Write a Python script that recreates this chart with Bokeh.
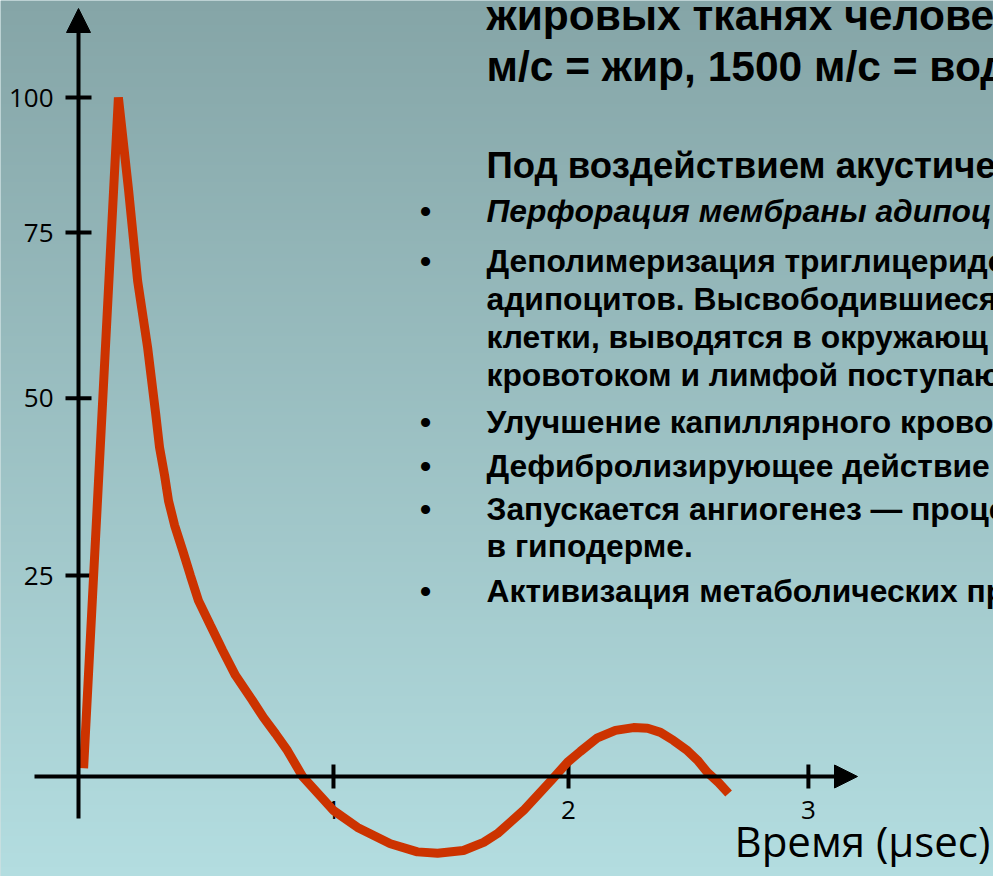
import numpy as np
from bokeh.plotting import figure
from bokeh.models import Label, Arrow, NormalHead
from bokeh.embed import file_html
from bokeh.resources import INLINE
from bokeh.core.properties import value

# ---- data ----
time_us = [0.021, 0.164, 0.206, 0.243, 0.284, 0.317, 0.333, 0.354, 0.370, 0.395,
           0.428, 0.460, 0.493, 0.543, 0.592, 0.645, 0.715, 0.760, 0.810, 0.859,
           0.921, 1.048, 1.147, 1.282, 1.393, 1.476, 1.582, 1.665, 1.722, 1.829,
           1.940, 2.010, 2.063, 2.133, 2.207, 2.281, 2.339, 2.392, 2.446, 2.503,
           2.544, 2.585, 2.631, 2.672]
amplitude = [1.2, 100.0, 86.3, 73.0, 63.2, 53.5, 48.5, 44.3, 40.6, 37.0,
             33.3, 29.6, 25.9, 22.2, 18.6, 14.9, 11.2, 8.7, 6.3, 3.8,
             0.0, -5.0, -7.5, -9.9, -11.1, -11.3, -10.9, -9.7, -8.4, -5.0,
             -0.7, 2.1, 3.7, 5.7, 6.8, 7.2, 7.1, 6.5, 5.3, 3.8,
             2.4, 0.6, -0.9, -2.5]

x_tick_pos = [1.048, 2.014, 3.0]
x_tick_labels = ["1", "2", "3"]
y_tick_pos = [29.6, 55.7, 80.1, 100.0]
y_tick_labels = ["25", "50", "75", "100"]

x_title = "Время (µsec)"
heading_lines = ["жировых тканях челове", "м/с = жир, 1500 м/с = вод"]
subheading = "Под воздействием акустиче"
bullet_lines = [
    ("Перфорация мембраны адипоц", True, True),
    ("Деполимеризация триглицеридо", True, False),
    ("адипоцитов. Высвободившиеся", False, False),
    ("клетки, выводятся в окружающ", False, False),
    ("кровотоком и лимфой поступаю", False, False),
    ("Улучшение капиллярного крово", True, False),
    ("Дефибролизирующее действие", True, False),
    ("Запускается ангиогенез — проце", True, False),
    ("в гиподерме.", False, False),
    ("Активизация метаболических пр", True, False),
]

# ---- layout ----
W, H = 993, 876
PX_X = 243.3   # pixels per time unit
PX_Y = 6.79    # pixels per amplitude unit
ORIGIN_X = 78  # pixels from left
ORIGIN_Y = 100  # pixels from bottom
x0, x1 = -ORIGIN_X / PX_X, (W - ORIGIN_X) / PX_X
y0, y1 = -ORIGIN_Y / PX_Y, (H - ORIGIN_Y) / PX_Y

p = figure(width=W, height=H, x_range=(x0, x1), y_range=(y0, y1),
           output_backend="svg", toolbar_location=None,
           x_axis_type=None, y_axis_type=None, min_border=0,
           outline_line_color=None, background_fill_color="#9fc4c6",
           border_fill_color="#9fc4c6")

# vertical gradient background
rows = 256
top = np.array([133, 165, 167], dtype=float)
bot = np.array([179, 221, 224], dtype=float)
t = np.linspace(0, 1, rows)[:, None]
cols = bot * (1 - t) + top * t
img = np.empty((rows, 1), dtype=np.uint32)
view = img.view(dtype=np.uint8).reshape((rows, 1, 4))
view[:, 0, 0:3] = np.round(cols).astype(np.uint8)
view[:, 0, 3] = 255
p.image_rgba(image=[img], x=x0, y=y0, dw=x1 - x0, dh=y1 - y0)

# axes with arrows
p.add_layout(Arrow(end=NormalHead(size=24, fill_color="black", line_color="black"),
                   x_start=0, y_start=-42 / PX_Y, x_end=0, y_end=768 / PX_Y,
                   line_width=4, line_color="black"))
p.add_layout(Arrow(end=NormalHead(size=23, fill_color="black", line_color="black"),
                   x_start=-44 / PX_X, y_start=0, x_end=779 / PX_X, y_end=0,
                   line_width=4, line_color="black"))

# ticks
p.scatter(x=[0] * len(y_tick_pos), y=y_tick_pos, marker="dash", size=26,
          line_width=4, line_color="black")
p.scatter(x=x_tick_pos, y=[0] * len(x_tick_pos), marker="dash", angle=np.pi / 2,
          size=24, line_width=4, line_color="black")
p.text(x=[0] * len(y_tick_pos), y=y_tick_pos, text=y_tick_labels, x_offset=-25,
       text_align="right", text_baseline="middle", text_font=value("Open Sans"),
       text_font_size="26px", text_color="black")
p.text(x=x_tick_pos, y=[0] * len(x_tick_pos), text=x_tick_labels, y_offset=33,
       text_align="center", text_baseline="middle", text_font=value("Open Sans"),
       text_font_size="26px", text_color="black")

# curve
p.line(time_us, amplitude, line_color="#CC3300", line_width=9)

# x title
p.add_layout(Label(x=734, y=8, x_units="screen", y_units="screen", text=x_title,
                   text_font="Open Sans", text_font_size="42px", text_color="black"))

# text block
FONT = "Liberation Sans"
TX = 486
for txt, yb in zip(heading_lines, [838, 787]):
    p.add_layout(Label(x=TX, y=yb, x_units="screen", y_units="screen", text=txt,
                       text_font=FONT, text_font_style="bold", text_font_size="42.5px",
                       text_color="black"))
p.add_layout(Label(x=TX, y=691, x_units="screen", y_units="screen", text=subheading,
                   text_font=FONT, text_font_style="bold", text_font_size="36.5px",
                   text_color="black"))
bullet_y = [648, 598, 560, 522, 484, 437, 393, 350, 313, 268]
for (txt, has_bullet, italic), yb in zip(bullet_lines, bullet_y):
    p.add_layout(Label(x=TX, y=yb, x_units="screen", y_units="screen", text=txt,
                       text_font=FONT,
                       text_font_style="bold italic" if italic else "bold",
                       text_font_size="31.8px", text_color="black"))
    if has_bullet:
        p.add_layout(Label(x=425, y=yb, x_units="screen", y_units="screen", text="•",
                           text_align="center", text_font=FONT, text_font_style="bold",
                           text_font_size="31.8px", text_color="black"))

open("out.html", "w").write(file_html(p, INLINE))
